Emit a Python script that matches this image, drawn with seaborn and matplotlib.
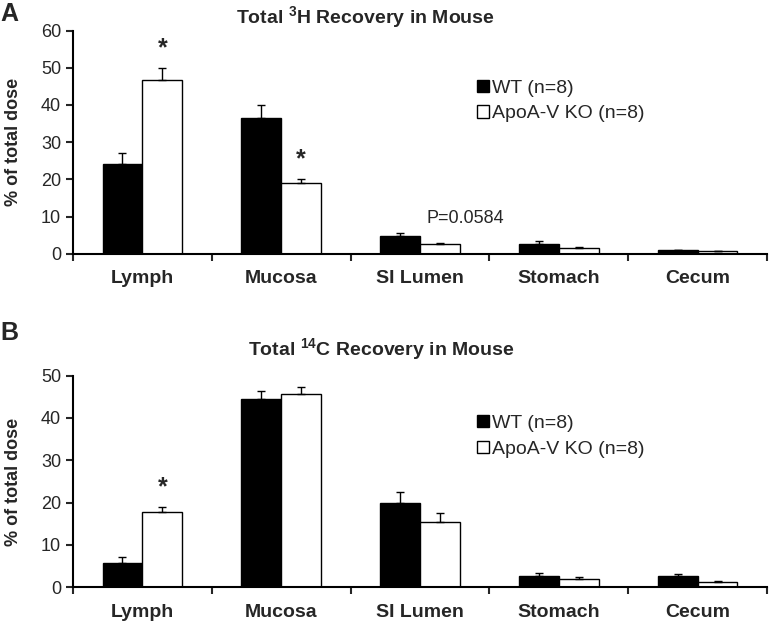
import numpy as np
import pandas as pd
import matplotlib
matplotlib.use("Agg")
from matplotlib import pyplot as plt
import seaborn as sns

sites = ['Lymph', 'Mucosa', 'SI Lumen', 'Stomach', 'Cecum']
groups = ['WT (n=8)', 'ApoA-V KO (n=8)']

# panel A : 3H recovery
h3_wt = [24.0, 36.6, 4.7, 2.7, 0.9]
h3_wt_err = [3.0, 3.4, 0.9, 0.7, 0.2]
h3_ko = [46.8, 18.9, 2.5, 1.5, 0.6]
h3_ko_err = [3.1, 1.2, 0.3, 0.3, 0.1]

# panel B : 14C recovery
c14_wt = [5.8, 44.4, 20.0, 2.7, 2.6]
c14_wt_err = [1.3, 2.0, 2.4, 0.6, 0.5]
c14_ko = [17.9, 45.6, 15.4, 2.0, 1.3]
c14_ko_err = [1.1, 1.7, 2.2, 0.4, 0.3]

sns.set_style("white")
plt.rcParams['font.family'] = ['Liberation Sans', 'DejaVu Sans']
plt.rcParams['mathtext.fontset'] = 'custom'
plt.rcParams['mathtext.rm'] = 'Liberation Sans'
plt.rcParams['mathtext.bf'] = 'Liberation Sans:bold'


def make_df(wt, wt_err, ko, ko_err):
    return pd.DataFrame({'site': sites * 2,
                         'group': [groups[0]] * 5 + [groups[1]] * 5,
                         'value': wt + ko,
                         'err': wt_err + ko_err})


def panel(ax, df, title, title_x, title_pad, ymax, stars, ptext, leg_y):
    sns.barplot(data=df, x='site', y='value', hue='group', hue_order=groups, order=sites,
                palette=['black', 'white'], edgecolor='black', linewidth=1.0,
                width=0.575, errorbar=None, ax=ax)
    # upward error bars only
    for cont, g in zip(ax.containers, groups):
        sub = df[df['group'] == g].set_index('site').loc[sites]
        xs = [p.get_x() + p.get_width() / 2 for p in cont.patches]
        ax.errorbar(xs, sub['value'], yerr=[np.zeros(5), sub['err']], fmt='none',
                    ecolor='black', elinewidth=1.0, capsize=3, capthick=1.0)
    ko_bars = ax.containers[1].patches
    ko = df[df['group'] == groups[1]].set_index('site').loc[sites]
    for i in stars:
        p = ko_bars[i]
        ax.text(p.get_x() + p.get_width() / 2, ko['value'].iloc[i] + ko['err'].iloc[i] + ymax * 0.035,
                '*', ha='center', va='bottom', fontsize=18, fontweight='bold')
    if ptext is not None:
        i, txt = ptext
        p = ko_bars[i]
        ax.text(p.get_x() + p.get_width() / 2 + 0.18, ko['value'].iloc[i] + 4.6, txt,
                ha='center', va='bottom', fontsize=13)

    ax.set_xlim(-0.5, 4.5)
    ax.set_ylim(0, ymax)
    ax.set_yticks(np.arange(0, ymax + 1, 10))
    ax.set_xticks(np.arange(-0.5, 5, 1), minor=True)
    ax.tick_params(axis='x', which='major', length=0, pad=12, labelsize=14)
    ax.tick_params(axis='x', which='minor', length=5, width=1.5, direction='out', bottom=True)
    ax.tick_params(axis='y', length=5, width=1.5, direction='out', left=True, labelsize=13)
    for lab in ax.get_xticklabels():
        lab.set_fontweight('bold')
    for s in ['top', 'right']:
        ax.spines[s].set_visible(False)
    for s in ['left', 'bottom']:
        ax.spines[s].set_linewidth(1.5)
        ax.spines[s].set_color('black')
    ax.set_xlabel('')
    ax.set_ylabel('% of total dose', fontsize=13, fontweight='bold', labelpad=14)
    ax.set_title(title, fontsize=14, fontweight='bold', pad=title_pad, x=title_x)
    ax.legend(loc='upper left', bbox_to_anchor=(0.568, leg_y), frameon=False, fontsize=14,
              handlelength=0.6, handleheight=0.6, handletextpad=0.2, labelspacing=0.45,
              borderpad=0)


fig = plt.figure(figsize=(7.71, 6.23), dpi=100)
ax1 = fig.add_axes([0.0947, 0.5928, 0.9001, 0.358])
ax2 = fig.add_axes([0.0947, 0.0573, 0.9001, 0.3397])

panel(ax1, make_df(h3_wt, h3_wt_err, h3_ko, h3_ko_err),
      r'Total $^{\mathbf{3}}$H Recovery in Mouse', 0.422, 5, 60, [0, 1], (2, 'P=0.0584'), 0.824)
panel(ax2, make_df(c14_wt, c14_wt_err, c14_ko, c14_ko_err),
      r'Total $^{\mathbf{14}}$C Recovery in Mouse', 0.444, 14, 50, [0], None, 0.861)

fig.text(0.0, 0.996, 'A', fontsize=18, fontweight='bold', va='top')
fig.text(0.0, 0.484, 'B', fontsize=18, fontweight='bold', va='top')

fig.savefig('out.png', dpi=100)
